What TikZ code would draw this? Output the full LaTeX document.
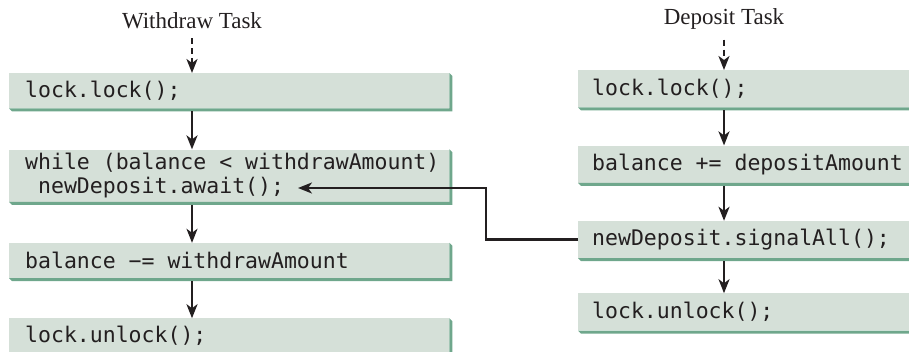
\documentclass[tikz,border=0pt]{standalone}
\usepackage{fontspec}
\setmainfont{Liberation Serif}
\setmonofont{DejaVu Sans Mono}
\usetikzlibrary{arrows.meta, positioning}
\definecolor{boxFace}{HTML}{D5E0D8}
\definecolor{boxEdge}{HTML}{6FA78C}
\definecolor{inkDark}{HTML}{231F20}

\begin{document}
\begin{tikzpicture}[x=1pt, y=1pt,
    code/.style={fill=boxFace, inner ysep=0pt, align=left, text=inkDark,
                 font=\ttfamily\fontsize{21.5}{23.5}\selectfont,
                 execute at begin node={\spaceskip=12.94pt\relax}},
    wcode/.style={code, inner xsep=16pt, text width=408pt, minimum height=35pt},
    dcode/.style={code, inner xsep=14pt, text width=312pt, minimum height=37pt},
    title/.style={inner sep=0pt, text=inkDark, font=\fontsize{23}{26}\selectfont},
    arr/.style={-{Stealth[length=14pt, width=11pt, inset=4pt]}, line width=2.2pt, inkDark},
    startarr/.style={arr, dash pattern=on 6pt off 4pt}
]
  \useasboundingbox (0,0) rectangle (909,-351);

  % withdraw task
  \node[title] (wtitle) at (192,-21) {Withdraw Task};
  \node[wcode, anchor=north west] (wlock) at (9,-73) {lock.lock();};
  \node[wcode, below=41pt of wlock.south west, anchor=north west, minimum height=52pt] (wloop)
    {\hbox{while (balance < withdrawAmount)}\\\hphantom{n}newDeposit.await();};
  \node[wcode, below=41pt of wloop.south west, anchor=north west] (wsub) {balance −= withdrawAmount};
  \node[wcode, below=40pt of wsub.south west, anchor=north west] (wunlock) {lock.unlock();};

  % deposit task
  \node[title] (dtitle) at (724,-19) {Deposit Task};
  \node[dcode, anchor=north west] (dlock) at (578,-70) {lock.lock();};
  \node[dcode, below=38pt of dlock.south west, anchor=north west] (dadd) {balance += depositAmount};
  \node[dcode, below=38pt of dadd.south west, anchor=north west] (dsignal) {newDeposit.signalAll();};
  \node[dcode, below=35pt of dsignal.south west, anchor=north west] (dunlock) {lock.unlock();};

  % raised edges
  \foreach \n in {wlock, wloop, wsub, wunlock, dlock, dadd, dsignal, dunlock}
    \fill[boxEdge] (\n.north east) -- ++(3,-3) -- ([shift={(3,-3)}]\n.south east)
      -- ([shift={(3,-3)}]\n.south west) -- (\n.south west) -- (\n.south east) -- cycle;

  \draw[startarr, shorten <=9pt] (wtitle.south) -- (wlock.north -| wtitle);
  \draw[arr, shorten <=3pt] (wlock.south -| wtitle) -- (wloop.north -| wtitle);
  \draw[arr, shorten <=3pt] (wloop.south -| wtitle) -- (wsub.north -| wtitle);
  \draw[arr, shorten <=3pt] (wsub.south -| wtitle) -- (wunlock.north -| wtitle);

  \draw[startarr, shorten <=10pt] (dtitle.south) -- (dlock.north -| dtitle);
  \draw[arr, shorten <=3pt] (dlock.south -| dtitle) -- (dadd.north -| dtitle);
  \draw[arr, shorten <=3pt] (dadd.south -| dtitle) -- (dsignal.north -| dtitle);
  \draw[arr, shorten <=3pt] (dsignal.south -| dtitle) -- (dunlock.north -| dtitle);

  % signal to the waiting task
  \coordinate (bend) at (486,-188);
  \coordinate (awaitTip) at (298,-188);
  \draw[arr] (dsignal.west) -| (bend) -- (awaitTip);
\end{tikzpicture}
\end{document}
